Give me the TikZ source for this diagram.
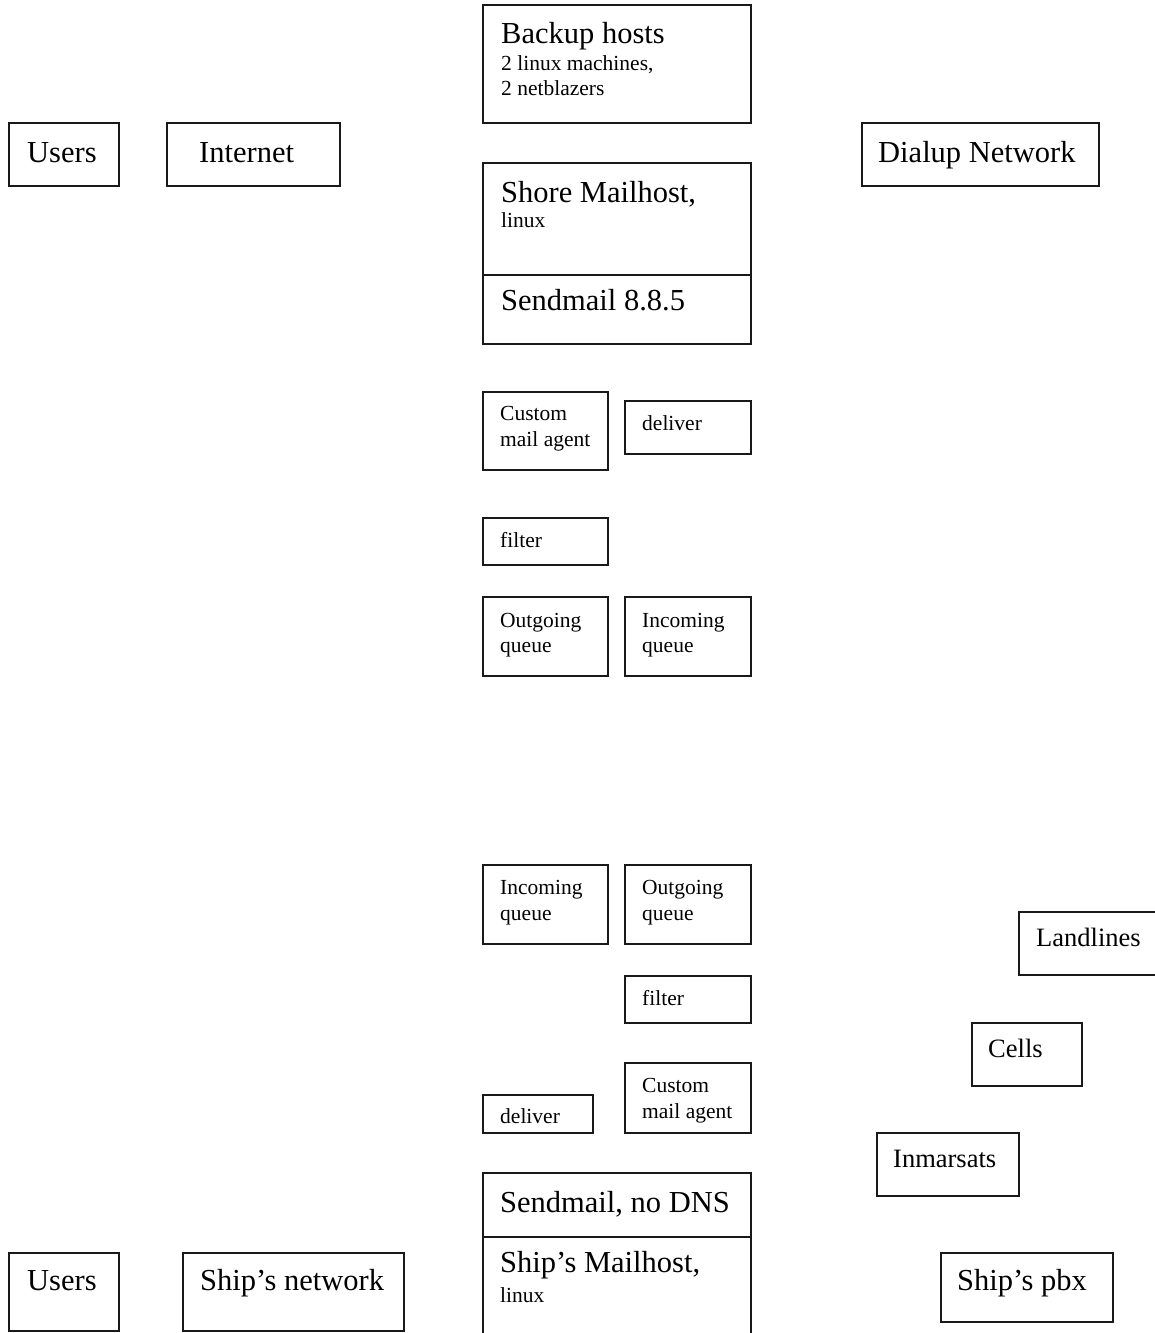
\documentclass[tikz,border=0pt]{standalone}
\usepackage{fontspec}
\setmainfont{Liberation Serif}
\begin{document}
\begin{tikzpicture}[x=1pt,y=-1pt,
  box/.style={draw=black!90,line width=1.1pt,rectangle,inner sep=0pt,outer sep=0pt},
  big/.style={anchor=base west,inner sep=0pt,font=\fontsize{30.5}{35}\selectfont},
  mid/.style={anchor=base west,inner sep=0pt,font=\fontsize{26.5}{31}\selectfont},
  small/.style={anchor=base west,inner sep=0pt,font=\fontsize{21.5}{25}\selectfont}]
\clip (0,0) rectangle (1155,1333);
\fill[white] (0,0) rectangle (1155,1333);
% ---- shore side ----
\draw[box] (483,5) rectangle (751,123) node[midway] (backup) {};
\node[big]   (backupT)  at (501,43) {Backup hosts};
\node[small] (backupA)  at (501,70) {2 linux machines,};
\node[small] (backupB)  at (501,95) {2 netblazers};

\draw[box] (483,163) rectangle (751,275) node[midway] (shore) {};
\draw[box] (483,275) rectangle (751,344) node[midway] (smail) {};
\node[big]   (shoreT) at (501,202) {Shore Mailhost,};
\node[small] (shoreA) at (501,227) {linux};
\node[big]   (smailT) at (501,310) {Sendmail 8.8.5};

\draw[box] (9,123) rectangle (119,186) node[midway] (users1) {};
\node[big] (users1T) at (27,162) {Users};
\draw[box] (167,123) rectangle (340,186) node[midway] (inet) {};
\node[big] (inetT) at (199,162) {Internet};
\draw[box] (862,123) rectangle (1099,186) node[midway] (dial) {};
\node[big] (dialT) at (878,162) {Dialup Network};

\draw[box] (483,392) rectangle (608,470) node[midway] (cma1) {};
\node[small] (cma1A) at (500,420) {Custom};
\node[small] (cma1B) at (500,446) {mail agent};
\draw[box] (625,401) rectangle (751,454) node[midway] (dlv1) {};
\node[small] (dlv1T) at (642,430) {deliver};
\draw[box] (483,518) rectangle (608,565) node[midway] (flt1) {};
\node[small] (flt1T) at (500,547) {filter};
\draw[box] (483,597) rectangle (608,676) node[midway] (outq1) {};
\node[small] (outq1A) at (500,627) {Outgoing};
\node[small] (outq1B) at (500,652) {queue};
\draw[box] (625,597) rectangle (751,676) node[midway] (inq1) {};
\node[small] (inq1A) at (642,627) {Incoming};
\node[small] (inq1B) at (642,652) {queue};

% ---- ship side ----
\draw[box] (483,865) rectangle (608,944) node[midway] (inq2) {};
\node[small] (inq2A) at (500,894) {Incoming};
\node[small] (inq2B) at (500,920) {queue};
\draw[box] (625,865) rectangle (751,944) node[midway] (outq2) {};
\node[small] (outq2A) at (642,894) {Outgoing};
\node[small] (outq2B) at (642,920) {queue};
\draw[box] (625,976) rectangle (751,1023) node[midway] (flt2) {};
\node[small] (flt2T) at (642,1005) {filter};
\draw[box] (625,1063) rectangle (751,1133) node[midway] (cma2) {};
\node[small] (cma2A) at (642,1092) {Custom};
\node[small] (cma2B) at (642,1118) {mail agent};
\draw[box] (483,1095) rectangle (593,1133) node[midway] (dlv2) {};
\node[small] (dlv2T) at (500,1123) {deliver};

\draw[box] (483,1173) rectangle (751,1237) node[midway] (nodns) {};
\node[big] (nodnsT) at (500,1212) {Sendmail, no DNS};
\draw[box] (483,1237) rectangle (751,1345) node[midway] (ship) {};
\node[big]   (shipT) at (500,1272) {Ship’s Mailhost,};
\node[small] (shipA) at (500,1302) {linux};

\draw[box] (9,1253) rectangle (119,1331) node[midway] (users2) {};
\node[big] (users2T) at (27,1290) {Users};
\draw[box] (183,1253) rectangle (404,1331) node[midway] (snet) {};
\node[big] (snetT) at (200,1290) {Ship’s network};

% ---- telephone links ----
\draw[box] (1019,912) rectangle (1170,975) node[midway] (land) {};
\node[mid] (landT) at (1036,946) {Landlines};
\draw[box] (972,1023) rectangle (1082,1086) node[midway] (cells) {};
\node[mid] (cellsT) at (988,1057) {Cells};
\draw[box] (877,1133) rectangle (1019,1196) node[midway] (inm) {};
\node[mid] (inmT) at (893,1167) {Inmarsats};
\draw[box] (941,1253) rectangle (1113,1322) node[midway] (pbx) {};
\node[big] (pbxT) at (957,1290) {Ship’s pbx};
\end{tikzpicture}
\end{document}
